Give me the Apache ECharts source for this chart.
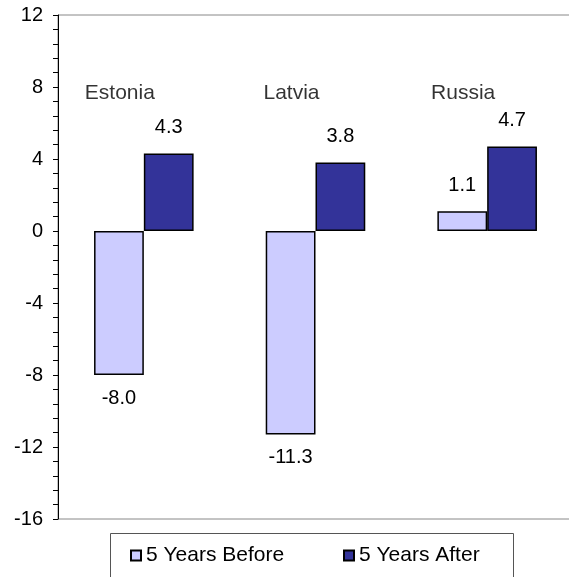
<!DOCTYPE html>
<html>
<head>
<meta charset="utf-8">
<style>
  html, body { margin: 0; padding: 0; background: #fff; }
  #chart { width: 569px; height: 577px; }
</style>
<script src="https://cdn.jsdelivr.net/npm/echarts@6/dist/echarts.min.js"></script>
</head>
<body>
<div id="chart"></div>
<script>
// Average growth five years before and after, by country
const countries = ['Estonia', 'Latvia', 'Russia'];
const before = [-8.0, -11.3, 1.1];
const after = [4.3, 3.8, 4.7];
const yTicks = [-16, -12, -8, -4, 0, 4, 8, 12];
const seriesNames = ['5 Years Before', '5 Years After'];

const FONT = "'Liberation Sans', Arial, sans-serif";
const NAME_ROW = 7.67; // height (in axis units) of the country captions

function barData(values) {
  return values.map(v => ({
    value: v,
    label: {
      position: v < 0 ? 'bottom' : 'top',
      distance: v < 0 ? 13 : 16
    }
  }));
}

const barLabel = {
  show: true,
  color: '#000',
  fontFamily: FONT,
  fontSize: 20,
  formatter: p => Number(p.value).toFixed(1)
};

const chart = echarts.init(document.getElementById('chart'), null, { renderer: 'canvas' });

chart.setOption({
  animation: false,
  backgroundColor: '#fff',
  grid: {
    left: 58, width: 515, top: 15, height: 504,
    outerBoundsMode: 'none',
    containLabel: false,
    show: true,
    borderColor: '#888',
    borderWidth: 1
  },
  xAxis: {
    type: 'category',
    data: countries,
    axisLine: { show: false },
    axisTick: { show: false },
    axisLabel: { show: false },
    splitLine: { show: false }
  },
  yAxis: {
    type: 'value',
    min: yTicks[0],
    max: yTicks[yTicks.length - 1],
    interval: yTicks[1] - yTicks[0],
    axisLine: { show: true, lineStyle: { color: '#000', width: 1 } },
    axisTick: { show: true, length: 5, lineStyle: { color: '#000' } },
    minorTick: { show: true, splitNumber: 5, length: 5, lineStyle: { color: '#000' } },
    splitLine: { show: false },
    axisLabel: { color: '#000', fontFamily: FONT, fontSize: 20, margin: 15 }
  },
  legend: [
    {
      data: [seriesNames[0]],
      left: 130, top: 545, padding: 0,
      itemWidth: 10, itemHeight: 10,
      icon: 'rect',
      selectedMode: false,
      textStyle: { color: '#000', fontFamily: FONT, fontSize: 21, lineHeight: 20 }
    },
    {
      data: [seriesNames[1]],
      left: 343, top: 545, padding: 0,
      itemWidth: 10, itemHeight: 10,
      icon: 'rect',
      selectedMode: false,
      textStyle: { color: '#000', fontFamily: FONT, fontSize: 21, lineHeight: 20 }
    }
  ],
  graphic: [
    {
      type: 'rect',
      shape: { x: 110.5, y: 533.5, width: 403, height: 70 },
      style: { fill: 'none', stroke: '#555', lineWidth: 1 },
      silent: true
    }
  ],
  series: [
    {
      name: seriesNames[0],
      type: 'bar',
      data: barData(before),
      barGap: '0%',
      barCategoryGap: '42%',
      itemStyle: { color: '#CCCCFF', borderColor: '#000', borderWidth: 1.5 },
      label: barLabel
    },
    {
      name: seriesNames[1],
      type: 'bar',
      data: barData(after),
      barGap: '0%',
      barCategoryGap: '42%',
      itemStyle: { color: '#333399', borderColor: '#000', borderWidth: 1.5 },
      label: barLabel
    },
    {
      // country captions above each pair of bars
      name: 'captions',
      type: 'scatter',
      silent: true,
      symbolSize: 0,
      data: countries.map(c => [c, NAME_ROW]),
      label: {
        show: true,
        position: 'inside',
        offset: [-24, 0],
        color: '#000',
        fontFamily: FONT,
        fontSize: 21,
        formatter: p => p.value[0]
      }
    }
  ]
});
</script>
</body>
</html>
